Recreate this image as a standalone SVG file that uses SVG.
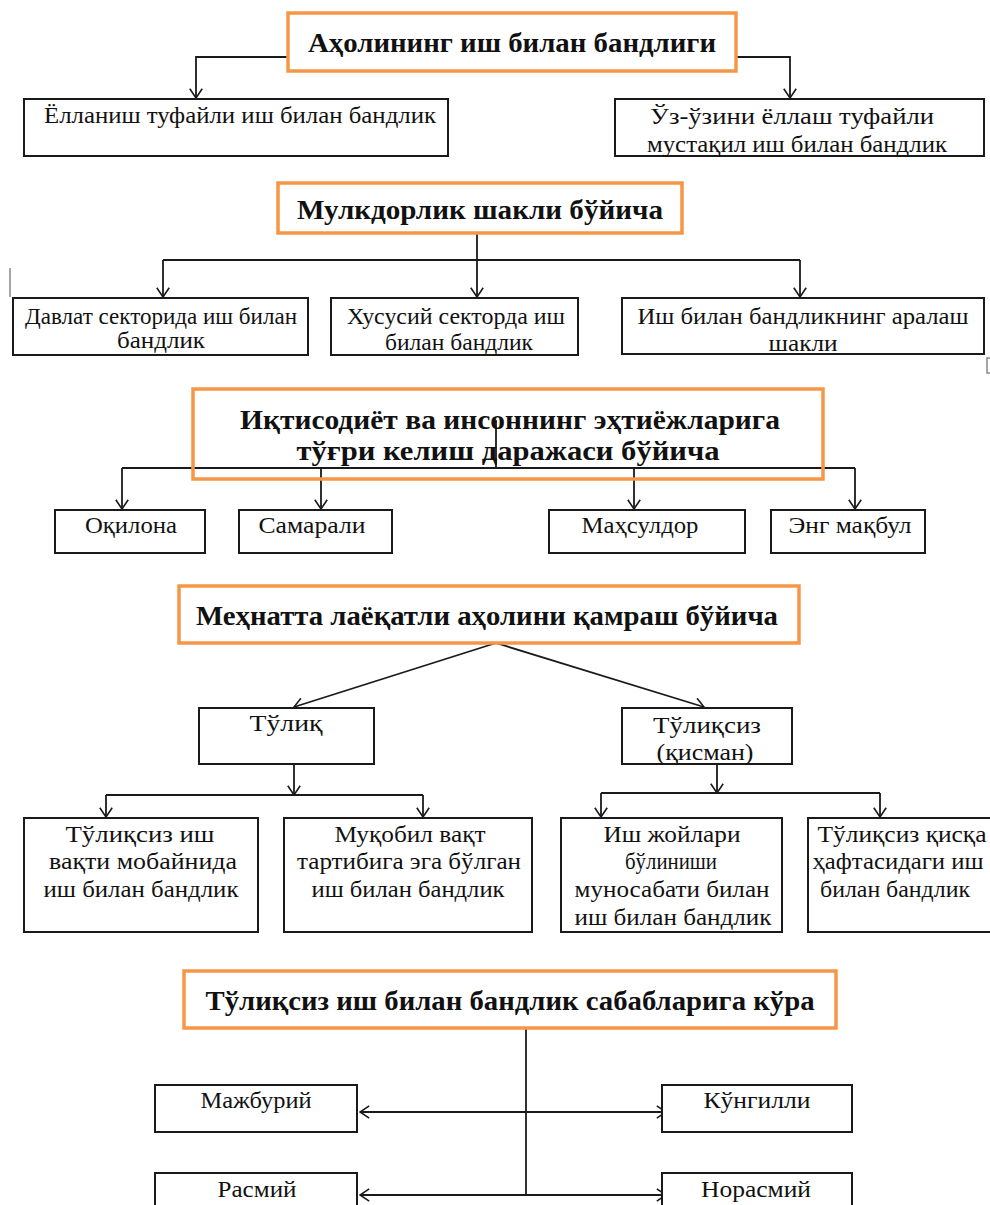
<svg xmlns="http://www.w3.org/2000/svg" width="990" height="1205" viewBox="0 0 990 1205">
<style>
  .bg { fill: #ffffff; }
  .head { fill: #ffffff; stroke: #F79646; stroke-width: 3.5; }
  .box { fill: #ffffff; stroke: #1a1a1a; stroke-width: 2; }
  .ht { font-family: "Liberation Serif", "DejaVu Serif", "Times New Roman", serif; font-weight: bold; font-size: 28px; fill: #111; text-anchor: middle; }
  .t { font-family: "Liberation Serif", "DejaVu Serif", "Times New Roman", serif; font-size: 22.5px; fill: #111; text-anchor: middle; }
  .c { fill: none; stroke: #1a1a1a; stroke-width: 1.8; }
  .a { marker-end: url(#arr); }
  .aa { marker-start: url(#arr); marker-end: url(#arr); }
  .stray { fill: none; stroke: #888; stroke-width: 1.5; }
</style>
<defs>
  <marker id="arr" viewBox="0 0 11 14" refX="10" refY="7" markerWidth="11" markerHeight="14" markerUnits="userSpaceOnUse" orient="auto-start-reverse">
    <path d="M0.8,0.8 L10,7 L0.8,13.2" fill="none" stroke="#1a1a1a" stroke-width="1.6"/>
  </marker>
</defs>
<rect class="bg" x="0" y="0" width="990" height="1205"/>

<!-- connectors -->
<g id="connectors">
  <!-- section 1 -->
  <path class="c a" d="M288 57 H196 V98"/>
  <path class="c a" d="M736 57 H790 V98"/>
  <!-- section 2 -->
  <path class="c a" d="M477 233 V297"/>
  <path class="c" d="M163 260 H800"/>
  <path class="c a" d="M163 260 V297"/>
  <path class="c a" d="M800 260 V297"/>
  <!-- section 3 -->
  <path class="c" d="M496 420 V468"/>
  <path class="c" d="M122 468 H855"/>
  <path class="c a" d="M122 468 V509"/>
  <path class="c a" d="M321 468 V509"/>
  <path class="c a" d="M634 468 V509"/>
  <path class="c a" d="M855 468 V509"/>
  <!-- section 4 -->
  <path class="c a" d="M496 643 L294 707"/>
  <path class="c a" d="M496 643 L704 707"/>
  <path class="c a" d="M294 764 V795"/>
  <path class="c" d="M106 795 H423"/>
  <path class="c a" d="M106 795 V817"/>
  <path class="c a" d="M423 795 V817"/>
  <path class="c a" d="M717 764 V793"/>
  <path class="c" d="M601 793 H880"/>
  <path class="c a" d="M601 793 V817"/>
  <path class="c a" d="M880 793 V817"/>
  <!-- section 5 -->
  <path class="c" d="M526 1028 V1195"/>
  <path class="c aa" d="M360 1112 H666"/>
  <path class="c aa" d="M360 1195 H666"/>
</g>

<!-- section 1 -->
<g id="n-head1">
  <rect class="head" x="288" y="13" width="448" height="58"/>
  <text class="ht" x="512" y="52" textLength="408" lengthAdjust="spacingAndGlyphs">Аҳолининг иш билан бандлиги</text>
</g>
<g id="n-yollanish">
  <rect class="box" x="24" y="99" width="424" height="57"/>
  <text class="t" x="240" y="123" textLength="392" lengthAdjust="spacingAndGlyphs">Ёлланиш туфайли иш билан бандлик</text>
</g>
<g id="n-uzuzini">
  <rect class="box" x="615" y="99" width="369" height="57"/>
  <text class="t" x="792" y="124" textLength="284" lengthAdjust="spacingAndGlyphs">Ўз-ўзини ёллаш туфайли</text>
  <text class="t" x="797" y="152" textLength="300" lengthAdjust="spacingAndGlyphs">мустақил иш билан бандлик</text>
</g>

<!-- section 2 -->
<g id="n-head2">
  <rect class="head" x="278" y="183" width="404" height="50"/>
  <text class="ht" x="480" y="219" textLength="366" lengthAdjust="spacingAndGlyphs">Мулкдорлик шакли бўйича</text>
</g>
<g id="n-davlat">
  <rect class="box" x="13" y="298" width="295" height="57"/>
  <text class="t" x="161" y="324" textLength="272" lengthAdjust="spacingAndGlyphs">Давлат секторида иш билан</text>
  <text class="t" x="161" y="348" textLength="88" lengthAdjust="spacingAndGlyphs">бандлик</text>
</g>
<g id="n-xususiy">
  <rect class="box" x="331" y="298" width="247" height="57"/>
  <text class="t" x="456" y="324" textLength="218" lengthAdjust="spacingAndGlyphs">Хусусий секторда иш</text>
  <text class="t" x="459" y="350" textLength="148" lengthAdjust="spacingAndGlyphs">билан бандлик</text>
</g>
<g id="n-aralash">
  <rect class="box" x="622" y="298" width="362" height="56"/>
  <text class="t" x="803" y="324" textLength="331" lengthAdjust="spacingAndGlyphs">Иш билан бандликнинг аралаш</text>
  <text class="t" x="803" y="351" textLength="69" lengthAdjust="spacingAndGlyphs">шакли</text>
</g>
<path class="stray" d="M10 268 V297"/>
<path class="stray" d="M990 358 H987 V373 H990"/>

<!-- section 3 -->
<g id="n-head3">
  <rect class="head" x="193" y="389" width="630" height="90" style="fill:none"/>
  <text class="ht" x="510" y="429" textLength="540" lengthAdjust="spacingAndGlyphs">Иқтисодиёт ва инсоннинг эҳтиёжларига</text>
  <text class="ht" x="508" y="460" textLength="423" lengthAdjust="spacingAndGlyphs">тўғри келиш даражаси бўйича</text>
</g>
<g id="n-oqilona">
  <rect class="box" x="55" y="510" width="150" height="43"/>
  <text class="t" x="131" y="533" textLength="92" lengthAdjust="spacingAndGlyphs">Оқилона</text>
</g>
<g id="n-samarali">
  <rect class="box" x="239" y="510" width="153" height="43"/>
  <text class="t" x="312" y="533" textLength="107" lengthAdjust="spacingAndGlyphs">Самарали</text>
</g>
<g id="n-mahsuldor">
  <rect class="box" x="549" y="510" width="196" height="43"/>
  <text class="t" x="640" y="533" textLength="117" lengthAdjust="spacingAndGlyphs">Маҳсулдор</text>
</g>
<g id="n-maqbul">
  <rect class="box" x="771" y="510" width="154" height="43"/>
  <text class="t" x="850" y="533" textLength="123" lengthAdjust="spacingAndGlyphs">Энг мақбул</text>
</g>

<!-- section 4 -->
<g id="n-head4">
  <rect class="head" x="179" y="586" width="620" height="57"/>
  <text class="ht" x="487" y="625" textLength="582" lengthAdjust="spacingAndGlyphs">Меҳнатта лаёқатли аҳолини қамраш бўйича</text>
</g>
<g id="n-tuliq">
  <rect class="box" x="199" y="708" width="175" height="56"/>
  <text class="t" x="286" y="731" textLength="73" lengthAdjust="spacingAndGlyphs">Тўлиқ</text>
</g>
<g id="n-tuliqsiz">
  <rect class="box" x="622" y="708" width="170" height="56"/>
  <text class="t" x="707" y="733" textLength="108" lengthAdjust="spacingAndGlyphs">Тўлиқсиз</text>
  <text class="t" x="705" y="760" textLength="97" lengthAdjust="spacingAndGlyphs">(қисман)</text>
</g>
<g id="n-tuliqsiz-vaqt">
  <rect class="box" x="24" y="818" width="234" height="114"/>
  <text class="t" x="140" y="842" textLength="149" lengthAdjust="spacingAndGlyphs">Тўлиқсиз иш</text>
  <text class="t" x="143" y="869" textLength="188" lengthAdjust="spacingAndGlyphs">вақти мобайнида</text>
  <text class="t" x="141" y="897" textLength="195" lengthAdjust="spacingAndGlyphs">иш билан бандлик</text>
</g>
<g id="n-muqobil">
  <rect class="box" x="284" y="818" width="248" height="114"/>
  <text class="t" x="410" y="842" textLength="151" lengthAdjust="spacingAndGlyphs">Муқобил вақт</text>
  <text class="t" x="409" y="869" textLength="224" lengthAdjust="spacingAndGlyphs">тартибига эга бўлган</text>
  <text class="t" x="408" y="897" textLength="193" lengthAdjust="spacingAndGlyphs">иш билан бандлик</text>
</g>
<g id="n-ish-joylari">
  <rect class="box" x="561" y="818" width="221" height="114"/>
  <text class="t" x="672" y="842" textLength="137" lengthAdjust="spacingAndGlyphs">Иш жойлари</text>
  <text class="t" x="671" y="869" textLength="92" lengthAdjust="spacingAndGlyphs">бўлиниши</text>
  <text class="t" x="672" y="897" textLength="195" lengthAdjust="spacingAndGlyphs">муносабати билан</text>
  <text class="t" x="673" y="925" textLength="197" lengthAdjust="spacingAndGlyphs">иш билан бандлик</text>
</g>
<g id="n-qisqa-hafta">
  <rect class="box" x="808" y="818" width="190" height="114"/>
  <text class="t" x="902" y="842" textLength="169" lengthAdjust="spacingAndGlyphs">Тўлиқсиз қисқа</text>
  <text class="t" x="898" y="869" textLength="171" lengthAdjust="spacingAndGlyphs">ҳафтасидаги иш</text>
  <text class="t" x="895" y="897" textLength="150" lengthAdjust="spacingAndGlyphs">билан бандлик</text>
</g>

<!-- section 5 -->
<g id="n-head5">
  <rect class="head" x="184" y="971" width="652" height="57"/>
  <text class="ht" x="510" y="1010" textLength="609" lengthAdjust="spacingAndGlyphs">Тўлиқсиз иш билан бандлик сабабларига кўра</text>
</g>
<g id="n-majburiy">
  <rect class="box" x="155" y="1085" width="202" height="47"/>
  <text class="t" x="256" y="1108" textLength="111" lengthAdjust="spacingAndGlyphs">Мажбурий</text>
</g>
<g id="n-kungilli">
  <rect class="box" x="662" y="1085" width="190" height="47"/>
  <text class="t" x="757" y="1108" textLength="107" lengthAdjust="spacingAndGlyphs">Кўнгилли</text>
</g>
<g id="n-rasmiy">
  <rect class="box" x="155" y="1173" width="202" height="45"/>
  <text class="t" x="257" y="1197" textLength="79" lengthAdjust="spacingAndGlyphs">Расмий</text>
</g>
<g id="n-norasmiy">
  <rect class="box" x="662" y="1173" width="190" height="45"/>
  <text class="t" x="756" y="1197" textLength="110" lengthAdjust="spacingAndGlyphs">Норасмий</text>
</g>
</svg>
